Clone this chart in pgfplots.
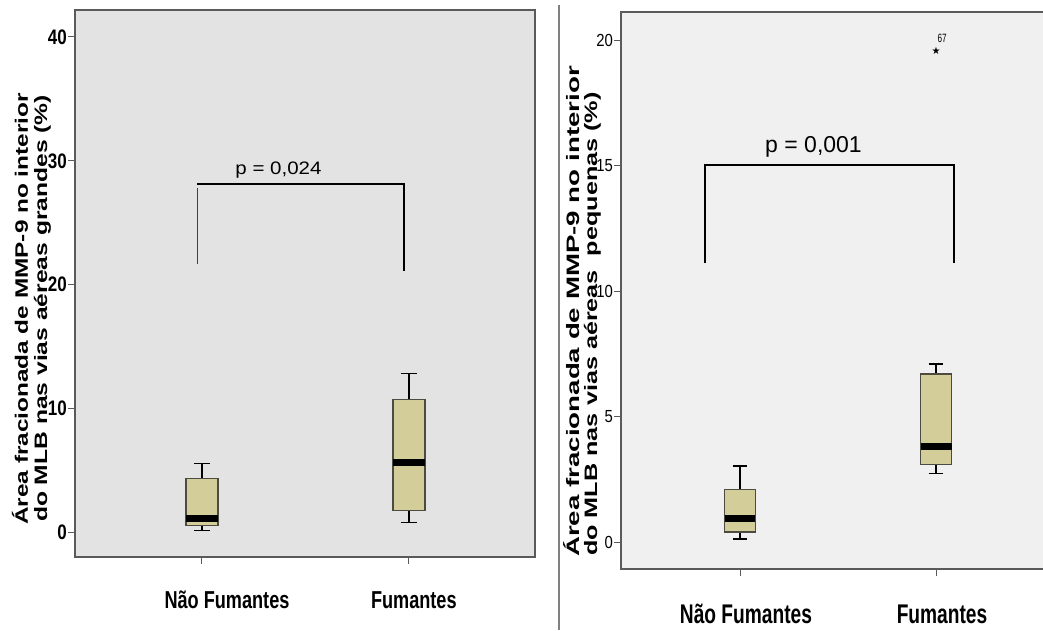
\documentclass[border=0pt]{standalone}
\usepackage{pgfplots}
\pgfplotsset{compat=1.18}
\usepgfplotslibrary{statistics}
\usepackage{fontspec}
\setmainfont{Liberation Sans}
\newfontfamily\dejavu{DejaVu Sans}
\definecolor{leftbg}{HTML}{E3E3E3}
\definecolor{rightbg}{HTML}{F0F0F0}
\definecolor{boxfill}{HTML}{D3CE99}
\definecolor{boxedge}{HTML}{4B4B42}
\definecolor{frame}{HTML}{5A5A5A}
\definecolor{divider}{HTML}{808080}
\newcommand{\ltl}[1]{\scalebox{0.81}[1]{\fontsize{21}{21}\selectfont\bfseries #1}}
\newcommand{\rtl}[1]{\scalebox{0.85}[1]{\fontsize{17.5}{17.5}\selectfont #1}}
\newcommand{\lcat}[1]{\scalebox{0.74}[1]{\fontsize{24.5}{24.5}\selectfont\bfseries #1}}
\newcommand{\rcat}[1]{\scalebox{0.71}[1]{\fontsize{27}{27}\selectfont\bfseries #1}}
\newcommand{\ylab}[2]{\scalebox{#1}[1]{\fontsize{18}{18}\selectfont\bfseries #2}}
\pgfplotsset{
  mybox/.style={black, line width=1.4pt,
    boxplot/draw direction=y,
    boxplot/every box/.style={draw=boxedge, fill=boxfill, line width=1.4pt},
    boxplot/every median/.style={black, line width=7pt},
    boxplot/every whisker/.style={black, line width=1.4pt}},
}
\begin{document}
\begin{tikzpicture}
\path[use as bounding box] (0,0) rectangle (1043pt,630pt);
% ---------------- left panel
\begin{axis}[
  at={(75pt,73pt)}, anchor=south west, scale only axis,
  width=460pt, height=547pt,
  xmin=0.386, xmax=2.61, ymin=-2.0, ymax=42.18,
  axis background/.style={fill=leftbg},
  axis line style={draw=frame, line width=1.3pt},
  tick align=outside, major tick length=7pt, tick pos=left,
  tick style={draw=frame, line width=1pt},
  xtick={1,2},
  xticklabels={\hspace*{40pt}\lcat{Não Fumantes}, \lcat{Fumantes}},
  xticklabel style={anchor=base, yshift=-44pt, xshift=5pt, inner sep=0pt},
  ytick={0,10,20,30,40},
  yticklabels={\ltl{0},\ltl{10},\ltl{20},\ltl{30},\ltl{40}},
  yticklabel style={inner sep=1pt},
  clip=false,
]
\addplot[mybox, boxplot prepared={draw direction=y, draw position=1, lower whisker=0.15,
  lower quartile=0.55, median=1.1, upper quartile=4.35, upper whisker=5.55,
  box extend=0.155, whisker extend=0.077}] coordinates {};
\addplot[mybox, boxplot prepared={draw direction=y, draw position=2, lower whisker=0.8,
  lower quartile=1.75, median=5.6, upper quartile=10.7, upper whisker=12.8,
  box extend=0.155, whisker extend=0.077}] coordinates {};
\addplot[black, line width=1.8pt] coordinates {(0.976,28.12) (1.977,28.12) (1.977,21.09)};
\addplot[black!75, line width=1pt] coordinates {(0.976,27.8) (0.976,21.66)};
\node at (axis cs:1.37,29.25) {\scalebox{1}[0.88]{\fontsize{20.5}{20.5}\selectfont p = 0,024}};
\end{axis}
% ---------------- right panel
\begin{axis}[
  at={(621pt,61pt)}, anchor=south west, scale only axis,
  width=425pt, height=557pt,
  xmin=0.393, xmax=2.561, ymin=-1.076, ymax=21.12,
  axis background/.style={fill=rightbg},
  axis line style={draw=frame, line width=1.3pt},
  tick align=outside, major tick length=7pt, tick pos=left,
  tick style={draw=frame, line width=1pt},
  xtick={1,2},
  xticklabels={\rcat{Não Fumantes}, \rcat{Fumantes}},
  xticklabel style={anchor=base, yshift=-47pt, xshift=6pt, inner sep=0pt},
  ytick={0,5,10,15,20},
  yticklabels={\rtl{0},\rtl{5},\rtl{10},\rtl{15},\rtl{20}},
  yticklabel style={inner sep=1pt},
  clip=false,
]
\addplot[mybox, boxplot prepared={draw direction=y, draw position=1, lower whisker=0.12,
  lower quartile=0.4, median=0.92, upper quartile=2.1, upper whisker=3.03,
  box extend=0.158, whisker extend=0.075}] coordinates {};
\addplot[mybox, boxplot prepared={draw direction=y, draw position=2, lower whisker=2.74,
  lower quartile=3.1, median=3.8, upper quartile=6.7, upper whisker=7.1,
  box extend=0.158, whisker extend=0.075}] coordinates {};
\addplot[only marks, mark=text, text mark={\fontsize{10}{10}\selectfont\dejavu ★}] coordinates {(2,19.57)};
\node at (axis cs:2.031,20.08) {\scalebox{0.68}[1]{\fontsize{12}{12}\selectfont 67}};
\addplot[black, line width=1.8pt] coordinates {(0.821,11.1) (0.821,15.03) (2.092,15.03) (2.092,11.1)};
\node at (axis cs:1.375,15.76) {\fontsize{23}{23}\selectfont p = 0,001};
\end{axis}
% ---------------- y labels and divider
\node[rotate=90, anchor=base] at (28pt,321pt) {\ylab{1.353}{Área fracionada de MMP-9 no interior}};
\node[rotate=90, anchor=base] at (47pt,321.5pt) {\ylab{1.368}{do MLB nas vias aéreas grandes (\%)}};
\node[rotate=90, anchor=base] at (579pt,318.5pt) {\ylab{1.538}{Área fracionada de MMP-9 no interior}};
\node[rotate=90, anchor=base] at (597pt,306pt) {\ylab{1.40}{do MLB nas vias aéreas \ pequenas (\%)}};
\draw[divider, line width=2pt] (559pt,0pt) -- (559pt,625pt);
\end{tikzpicture}
\end{document}
